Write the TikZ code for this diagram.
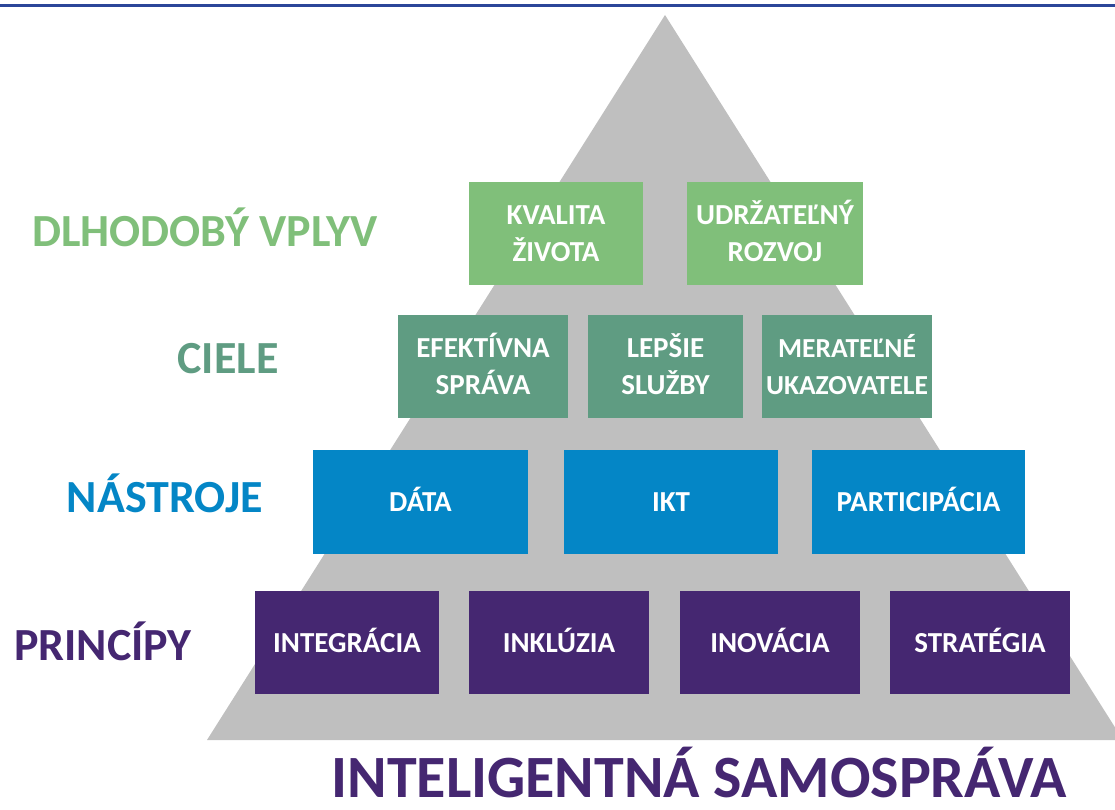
\documentclass[tikz,border=0pt]{standalone}
\usepackage{fontspec}
\setmainfont{Carlito}
\definecolor{pyrgray}{HTML}{BFBFBF}
\definecolor{lgreen}{HTML}{80BF7A}
\definecolor{tgreen}{HTML}{5F9C82}
\definecolor{tblue}{HTML}{0486C6}
\definecolor{tpurple}{HTML}{452771}
\definecolor{topline}{HTML}{2B4699}
\begin{document}
\begin{tikzpicture}[x=1pt,y=-1pt,
  box/.style={fill=#1, draw=none, inner sep=0pt, text=white,
    font=\bfseries\fontsize{29}{37}\selectfont, align=center},
  wh/.style 2 args={minimum width=#1pt, minimum height=#2pt, text width=#1pt-4pt},
  oneline/.style={text height=19pt, text depth=0pt},
  twoline/.style={text height=19pt, text depth=37pt},
  lbl/.style={text=#1, anchor=base, inner sep=0pt, text depth=0pt, font=\bfseries\fontsize{46}{50}\selectfont}]
\useasboundingbox (0,0) rectangle (1115,810);
\begin{scope}
\clip (0,0) rectangle (1115,810);
\fill[pyrgray] (665,15) -- (207,740) -- (1123,740) -- cycle;
\end{scope}
\draw[topline, line width=2.5pt] (0,5.5) -- (1115,5.5);
% row 1
\node[box=lgreen, wh={174}{103}, twoline] (kv) at (556,233.5) {KVALITA\\ŽIVOTA};
\node[box=lgreen, wh={176}{103}, twoline] (ur) at (775,233.5) {UDRŽATEĽNÝ\\ROZVOJ};
% row 2
\node[box=tgreen, wh={170}{103}, twoline] (es) at (483,366.5) {EFEKTÍVNA\\SPRÁVA};
\node[box=tgreen, wh={155}{103}, twoline] (ls) at (665.5,366.5) {LEPŠIE\\SLUŽBY};
\node[box=tgreen, wh={170}{103}, twoline, font=\bfseries\fontsize{27.5}{37}\selectfont] (mu) at (847,366.5) {MERATEĽNÉ\\UKAZOVATELE};
% row 3
\node[box=tblue, wh={215}{104}, oneline] (da) at (420.5,502) {DÁTA};
\node[box=tblue, wh={214}{104}, oneline] (ik) at (671,502) {IKT};
\node[box=tblue, wh={213}{104}, oneline] (pa) at (918.5,502) {PARTICIPÁCIA};
% row 4
\node[box=tpurple, wh={184}{103}, oneline] (ig) at (347,642.5) {INTEGRÁCIA};
\node[box=tpurple, wh={180}{103}, oneline] (ik2) at (559,642.5) {INKLÚZIA};
\node[box=tpurple, wh={180}{103}, oneline] (in) at (770,642.5) {INOVÁCIA};
\node[box=tpurple, wh={180}{103}, oneline] (st) at (980,642.5) {STRATÉGIA};
% labels
\node[lbl=lgreen] (l1) at (205,247) {DLHODOBÝ VPLYV};
\node[lbl=tgreen] (l2) at (228,373) {CIELE};
\node[lbl=tblue] (l3) at (165,512) {NÁSTROJE};
\node[lbl=tpurple] (l4) at (103,660) {PRINCÍPY};
\node[text=tpurple, anchor=base, inner sep=0pt, text depth=0pt, font=\bfseries\fontsize{60}{64}\selectfont] (title) at (699,797) {INTELIGENTNÁ SAMOSPRÁVA};
\end{tikzpicture}
\end{document}
